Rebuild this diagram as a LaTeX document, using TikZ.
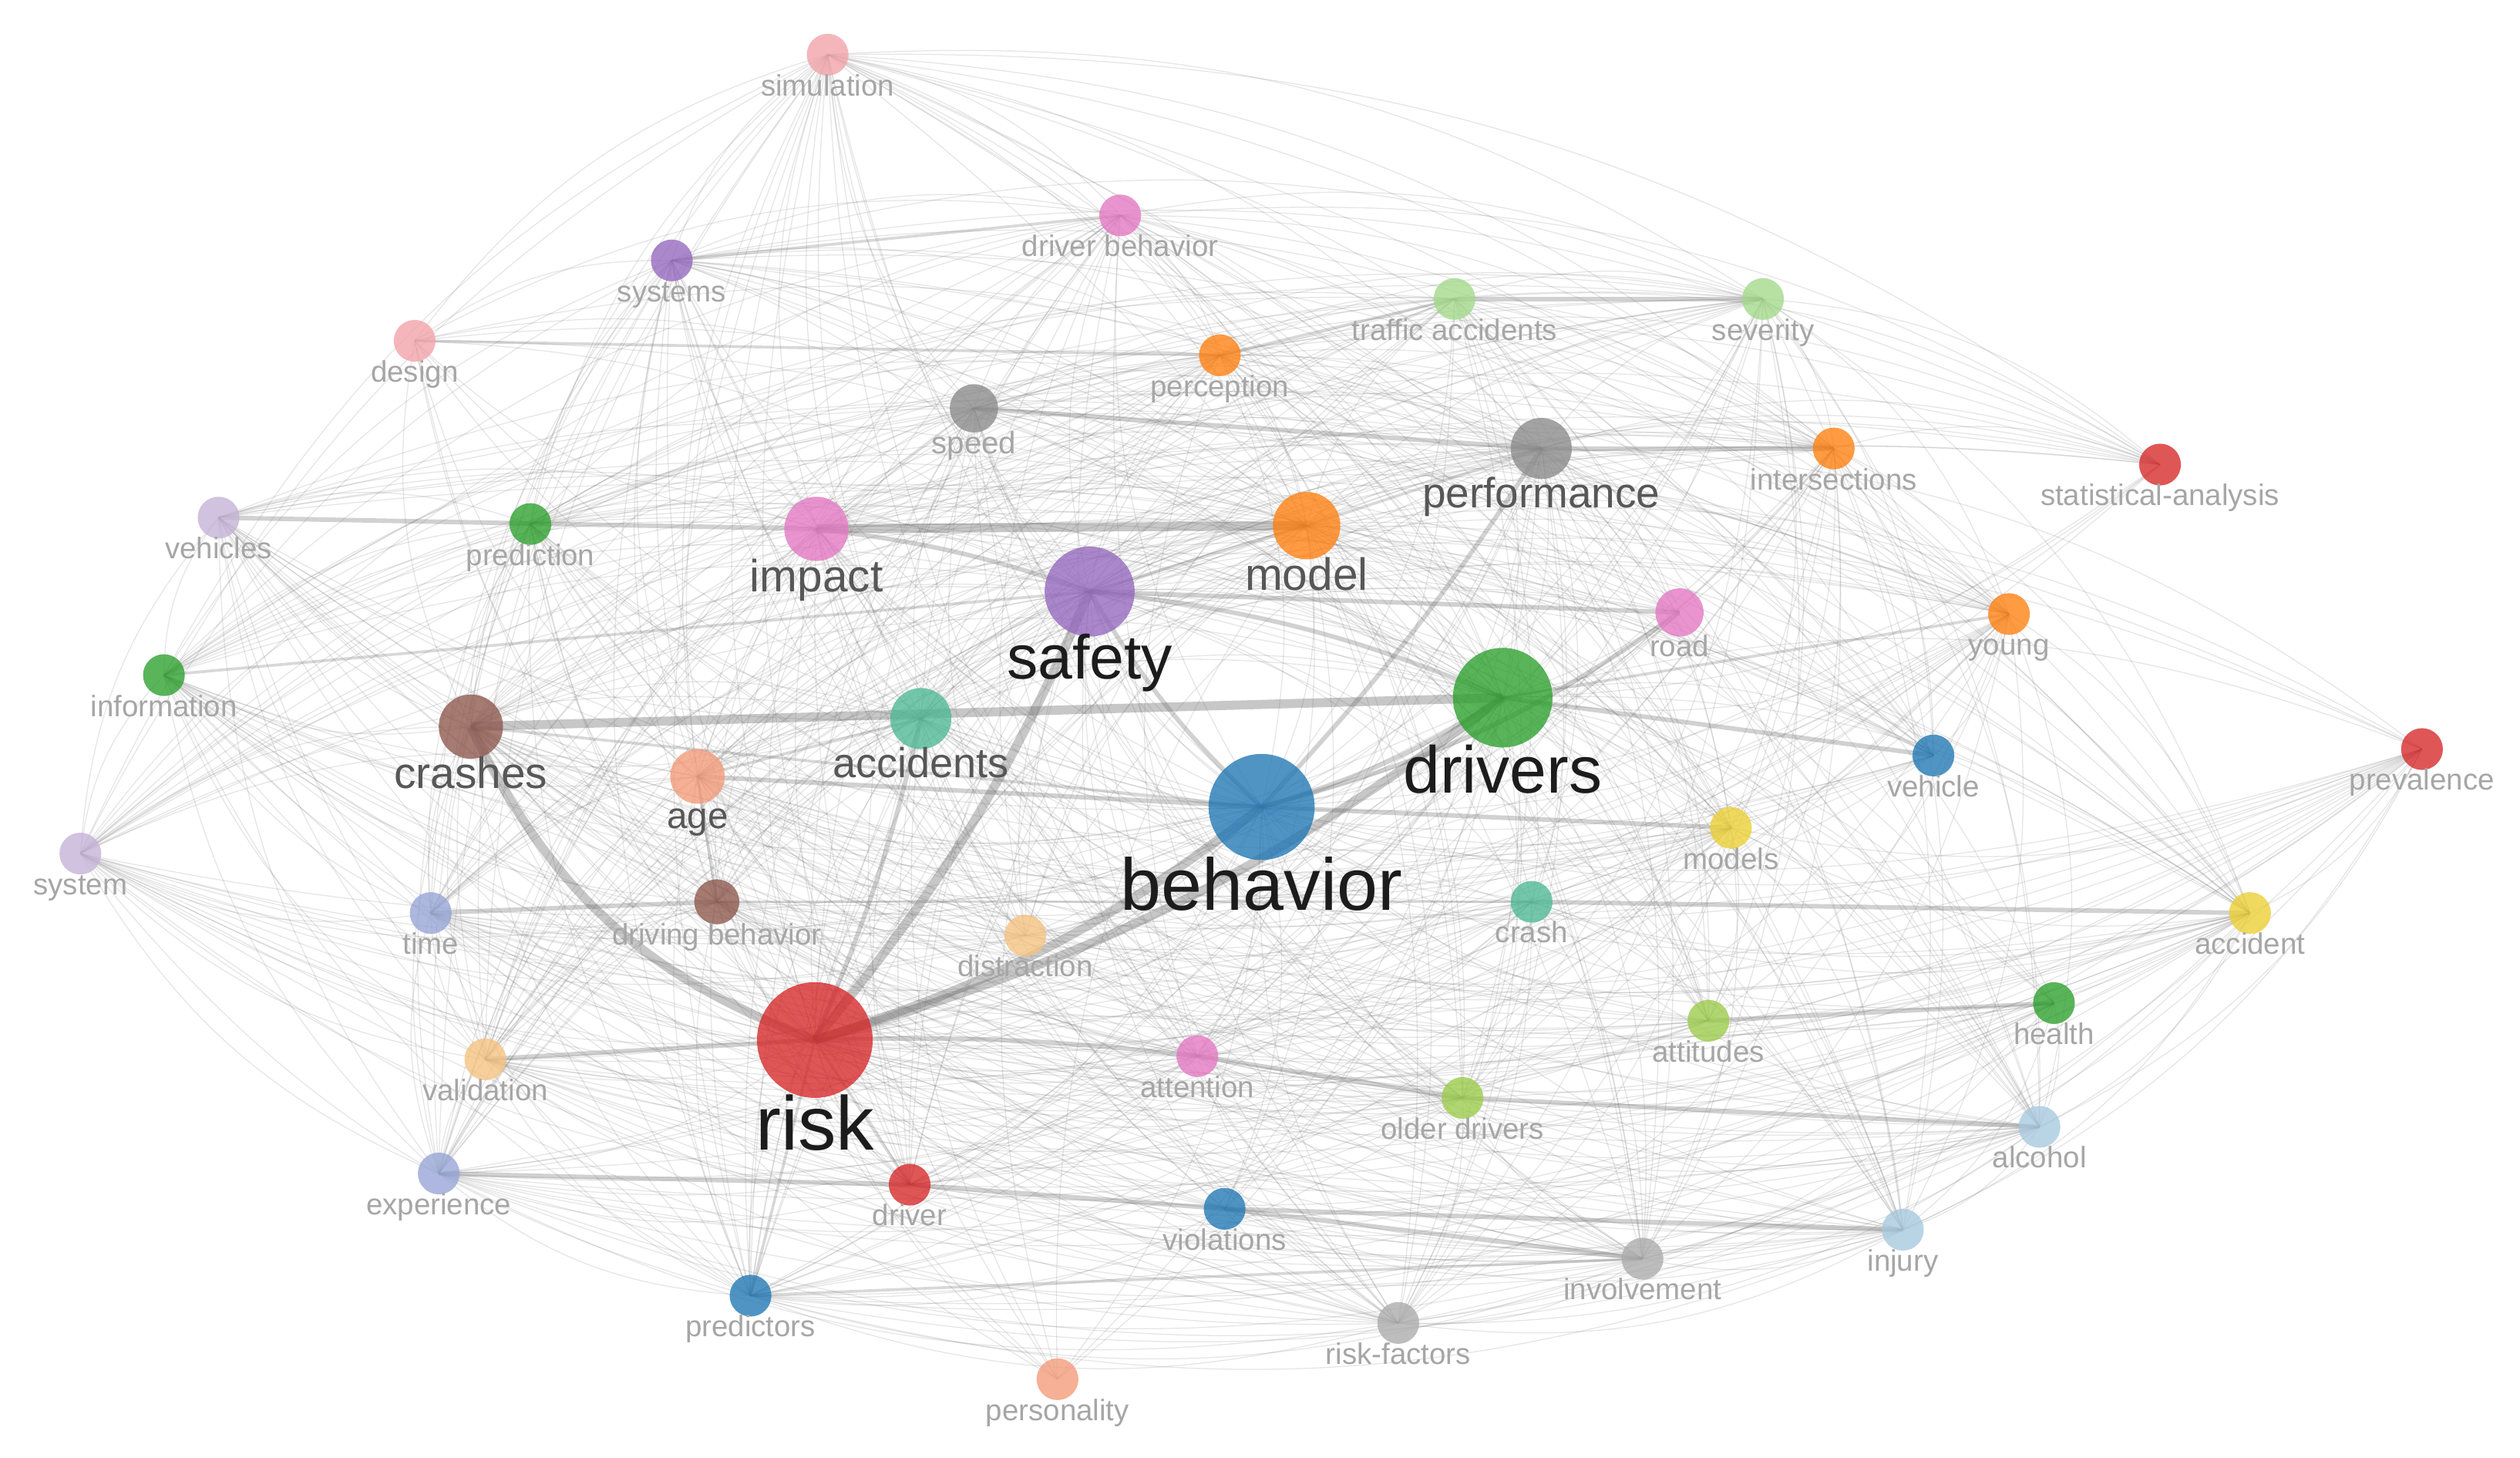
\documentclass[tikz,border=0pt]{standalone}
\usepackage{fontspec}
\setmainfont{Liberation Sans}
\pgfdeclarelayer{bg}
\pgfdeclarelayer{edges}
\pgfsetlayers{bg,edges,main}
\definecolor{cRed}{HTML}{D62728}
\definecolor{cBlue}{HTML}{1F77B4}
\definecolor{cGreen}{HTML}{2CA02C}
\definecolor{cPurple}{HTML}{9467BD}
\definecolor{cOrange}{HTML}{FF7F0E}
\definecolor{cPink}{HTML}{E377C2}
\definecolor{cBrown}{HTML}{8C564B}
\definecolor{cTeal}{HTML}{4DB893}
\definecolor{cSalmon}{HTML}{F39A78}
\definecolor{cGray}{HTML}{8A8A8A}
\definecolor{cLGray}{HTML}{ABABAB}
\definecolor{cLGreen}{HTML}{A2D98A}
\definecolor{cLPink}{HTML}{F2A2A8}
\definecolor{cLPurple}{HTML}{C5B2D8}
\definecolor{cPeri}{HTML}{96A4D6}
\definecolor{cLOrange}{HTML}{F5C27E}
\definecolor{cYellow}{HTML}{EBCF33}
\definecolor{cYGreen}{HTML}{9BCB4A}
\definecolor{cLBlue}{HTML}{A6C8DE}
\definecolor{lblBig}{HTML}{1C1C1C}
\definecolor{lblMed}{HTML}{575757}
\definecolor{lblSm}{HTML}{A6A6A6}
\def\NL{risk/507/647/36/cRed/27/lblBig/risk,
behavior/785/502/33/cBlue/26/lblBig/behavior,
drivers/935/434/31/cGreen/23.5/lblBig/drivers,
safety/678/368/28/cPurple/22/lblBig/safety,
model/813/327/21/cOrange/16/lblMed/model,
impact/508/329/20/cPink/16/lblMed/impact,
crashes/293/452/20/cBrown/15.5/lblMed/crashes,
accidents/573/447/19/cTeal/14.8/lblMed/accidents,
performance/959/279/19/cGray/15/lblMed/performance,
age/434/483/17/cSalmon/13/lblMed/age,
speed/606/254/15/cGray/11/lblSm/speed,
road/1045/381/15/cPink/10.5/lblSm/road,
drivbeh/446/561/14/cBrown/10.5/lblSm/driving behavior,
simulation/515/34/13/cLPink/10.5/lblSm/simulation,
driverbeh/697/134/13/cPink/10.5/lblSm/driver behavior,
systems/418/162/13/cPurple/10.5/lblSm/systems,
design/258/212/13/cLPink/10.5/lblSm/design,
trafacc/905/186/13/cLGreen/10.5/lblSm/traffic accidents,
severity/1097/186/13/cLGreen/10.5/lblSm/severity,
perception/759/221/13/cOrange/10.5/lblSm/perception,
intersections/1141/279/13/cOrange/10.5/lblSm/intersections,
statan/1344/289/13/cRed/10.5/lblSm/statistical-analysis,
vehicles/136/322/13/cLPurple/10.5/lblSm/vehicles,
prediction/330/326/13/cGreen/10.5/lblSm/prediction,
young/1250/382/13/cOrange/10.5/lblSm/young,
information/102/420/13/cGreen/10.5/lblSm/information,
vehicle/1203/470/13/cBlue/10.5/lblSm/vehicle,
prevalence/1507/466/13/cRed/10.5/lblSm/prevalence,
models/1077/515/13/cYellow/10.5/lblSm/models,
system/50/531/13/cLPurple/10.5/lblSm/system,
time/268/568/13/cPeri/10.5/lblSm/time,
distraction/638/582/13/cLOrange/10.5/lblSm/distraction,
crash/953/561/13/cTeal/10.5/lblSm/crash,
accident/1400/568/13/cYellow/10.5/lblSm/accident,
validation/302/659/13/cLOrange/10.5/lblSm/validation,
attention/745/657/13/cPink/10.5/lblSm/attention,
attitudes/1063/635/13/cYGreen/10.5/lblSm/attitudes,
health/1278/624/13/cGreen/10.5/lblSm/health,
olderdr/910/683/13/cYGreen/10.5/lblSm/older drivers,
alcohol/1269/701/13/cLBlue/10.5/lblSm/alcohol,
experience/273/730/13/cPeri/10.5/lblSm/experience,
driver/566/737/13/cRed/10.5/lblSm/driver,
violations/762/752/13/cBlue/10.5/lblSm/violations,
involvement/1022/783/13/cLGray/10.5/lblSm/involvement,
injury/1184/765/13/cLBlue/10.5/lblSm/injury,
predictors/467/806/13/cBlue/10.5/lblSm/predictors,
riskfac/870/823/13/cLGray/10.5/lblSm/risk-factors,
personality/658/858/13/cSalmon/10.5/lblSm/personality}
\begin{document}
\begin{tikzpicture}[x=0.02cm,y=0.02cm,
  nd/.style={circle,inner sep=0pt,draw=none,fill opacity=0.78},
  lbl/.style={inner sep=0pt,anchor=base},
  edge/.style={draw=black!50,opacity=0.2,line width=0.35pt},
  hvA/.style={draw=black!55,opacity=0.4,line width=3.2pt},
  hvB/.style={draw=black!55,opacity=0.32,line width=1.6pt},
  hvC/.style={draw=black!55,opacity=0.28,line width=1pt}]
\useasboundingbox (0,0) rectangle (1568,-907);
\begin{pgfonlayer}{bg}
\fill[white] (0,0) rectangle (1568,-907);
\end{pgfonlayer}
% nodes and labels
\foreach \nid/\x/\y/\rr/\col/\fs/\lst/\tx in \NL {
  \pgfmathsetmacro\dd{\rr*0.04}
  \pgfmathsetmacro\ly{\y+\rr+1.2*\fs}
  \node[nd,fill=\col,minimum size=\dd cm] (\nid) at (\x,-\y) {};
  \node[lbl,text=\lst,font=\fontsize{\fs}{\fs}\selectfont] (\nid-l) at (\x,-\ly) {\tx};
}
% background web of connections
\begin{pgfonlayer}{edges}
\foreach \ea/\xa/\ya/\ra/\ca/\fa/\la/\ta [count=\i] in \NL {
  \foreach \eb/\xb/\yb/\rb/\cb/\fb/\lb/\tb [count=\j] in \NL {
    \ifnum\j>\i
      \pgfmathtruncatemacro\kp{mod(\i*7+\j*13+\i*\j,5)}
      \pgfmathtruncatemacro\big{(\i<11)||(\kp<4)}
      \ifnum\big=1
        \pgfmathsetmacro\cr{((\xb-\xa)/100)*((450-(\ya+\yb)/2)/100)+((\yb-\ya)/100)*(((\xa+\xb)/2-780)/100)}
        \ifdim\cr pt>0pt
          \draw[edge] (\ea.center) to[bend left=18] (\eb.center);
        \else
          \draw[edge] (\ea.center) to[bend right=18] (\eb.center);
        \fi
      \fi
    \fi
  }
}
% strong connections
\draw[hvA] (risk.center) to[bend right=10] (behavior.center);
\draw[hvA] (risk.center) to[bend right=10] (drivers.center);
\draw[hvA] (risk.center) to[bend right=8] (safety.center);
\draw[hvA] (risk.center) to[bend left=22] (crashes.center);
\draw[hvA] (crashes.center) -- (drivers.center);
\draw[hvA] (impact.center) -- (model.center);
\draw[hvB] (risk.center) to[bend right=5] (accidents.center);
\draw[hvB] (behavior.center) to[bend right=8] (drivers.center);
\draw[hvB] (safety.center) to[bend right=8] (behavior.center);
\draw[hvB] (safety.center) to[bend left=8] (drivers.center);
\draw[hvB] (impact.center) to[bend left=6] (safety.center);
\draw[hvB] (safety.center) -- (road.center);
\draw[hvB] (behavior.center) to[bend right=10] (road.center);
\draw[hvB] (behavior.center) to[bend right=5] (performance.center);
\draw[hvB] (behavior.center) -- (models.center);
\draw[hvB] (age.center) -- (behavior.center);
\draw[hvB] (time.center) -- (drivbeh.center);
\draw[hvB] (speed.center) -- (performance.center);
\draw[hvB] (performance.center) -- (intersections.center);
\draw[hvB] (trafacc.center) -- (severity.center);
\draw[hvB] (risk.center) to[bend left=4] (attention.center);
\draw[hvB] (attention.center) -- (olderdr.center);
\draw[hvB] (olderdr.center) -- (alcohol.center);
\draw[hvB] (violations.center) -- (injury.center);
\draw[hvB] (violations.center) -- (involvement.center);
\draw[hvB] (driver.center) -- (violations.center);
\draw[hvB] (drivers.center) -- (vehicle.center);
\draw[hvB] (crash.center) -- (accident.center);
\draw[hvB] (attitudes.center) -- (health.center);
\draw[hvB] (vehicles.center) -- (impact.center);
\draw[hvB] (experience.center) -- (driver.center);
\draw[hvB] (validation.center) -- (risk.center);
\draw[hvC] (age.center) -- (drivbeh.center);
\draw[hvC] (drivbeh.center) -- (crash.center);
\draw[hvC] (predictors.center) -- (involvement.center);
\draw[hvC] (information.center) -- (safety.center);
\draw[hvC] (design.center) -- (perception.center);
\draw[hvC] (perception.center) -- (trafacc.center);
\draw[hvC] (accidents.center) -- (age.center);
\draw[hvC] (crashes.center) -- (behavior.center);
\draw[hvC] (model.center) -- (performance.center);
\draw[hvC] (drivers.center) -- (young.center);
\draw[hvC] (risk.center) -- (driver.center);
\draw[hvC] (risk.center) -- (predictors.center);
\draw[hvC] (systems.center) -- (driverbeh.center);
\draw[hvC] (model.center) -- (safety.center);
\end{pgfonlayer}
\end{tikzpicture}
\end{document}
